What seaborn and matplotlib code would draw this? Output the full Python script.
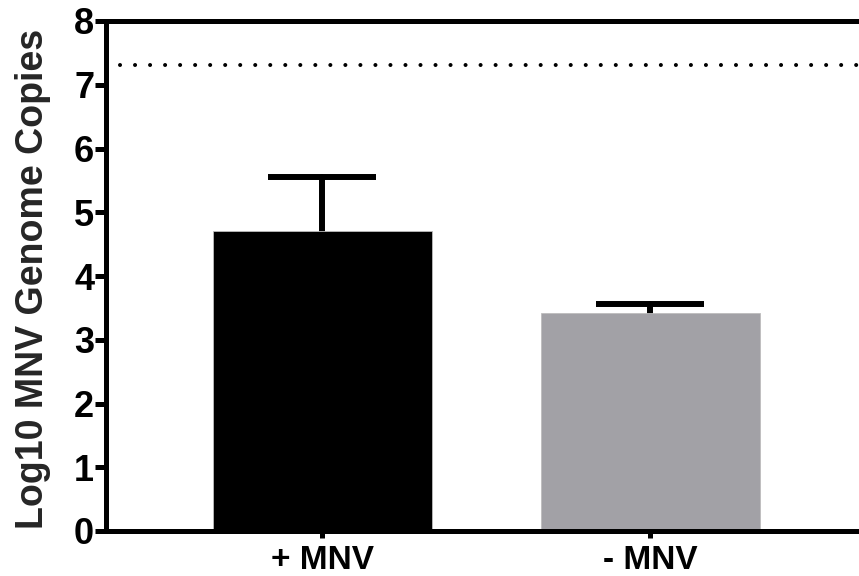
import matplotlib
matplotlib.use("Agg")
import matplotlib.pyplot as plt
import seaborn as sns
import pandas as pd

categories = ["+ MNV", "- MNV"]
means = [4.70, 3.42]
errors_up = [0.85, 0.14]
bar_colors = ["#000000", "#A2A1A6"]
limit_of_detection = 7.31
yticks = [0, 1, 2, 3, 4, 5, 6, 7, 8]

sns.set_theme(style="ticks")
plt.rcParams["font.family"] = ["Liberation Sans", "DejaVu Sans"]
plt.rcParams["font.weight"] = "bold"

df = pd.DataFrame({"group": categories, "value": means})

fig = plt.figure(figsize=(8.59, 5.76), dpi=100)
ax = fig.add_axes([106 / 859, 45 / 576, 753 / 859, 510 / 576])

sns.barplot(data=df, x="group", y="value", hue="group", palette=bar_colors,
            width=0.668, legend=False, ax=ax, saturation=1, errorbar=None,
            edgecolor="#BDBDBD", linewidth=0.6, zorder=3)

eb = ax.errorbar(range(len(categories)), means,
                 yerr=[[0] * len(means), errors_up],
                 fmt="none", ecolor="black", elinewidth=4.3, capsize=39,
                 capthick=4.3, zorder=2)
caplines = eb.lines[1]
if len(caplines) > 0:
    caplines[0].set_visible(False)

ax.hlines(limit_of_detection, -0.616, 1.7, colors="black", linewidth=2.9,
          linestyles=(0, (0.01, 3.72)))
for coll in ax.collections:
    try:
        coll.set_capstyle("round")
    except Exception:
        pass

ax.set_xlim(-0.659, 1.637)
ax.set_ylim(0, 8)
ax.set_yticks(yticks)
ax.set_xlabel("")
ax.set_ylabel("Log10 MNV Genome Copies", fontsize=27, fontweight="bold")
ax.yaxis.set_label_coords(-0.073, 0.494)

for side in ["left", "bottom", "top"]:
    ax.spines[side].set_linewidth(3.6)
    ax.spines[side].set_color("black")
    ax.spines[side].set_zorder(5)
ax.spines["right"].set_visible(False)

ax.tick_params(axis="y", direction="out", length=8, width=3.6, pad=0.5,
               labelsize=26, colors="black")
ax.tick_params(axis="x", direction="out", length=5, width=3.6, pad=5,
               labelsize=24, colors="black")
for lab in ax.get_xticklabels() + ax.get_yticklabels():
    lab.set_fontweight("bold")

fig.savefig("out.png", dpi=100)
